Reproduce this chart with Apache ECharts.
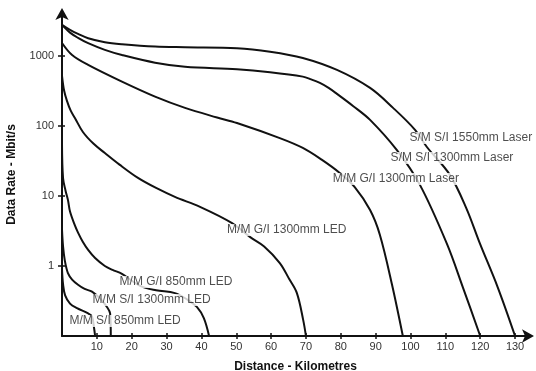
<!DOCTYPE html>
<html>
<head>
<meta charset="utf-8">
<script src="https://cdn.jsdelivr.net/npm/echarts@6/dist/echarts.min.js"></script>
<style>
html,body{margin:0;padding:0;background:#fff;}
#chart{width:536px;height:371px;}
</style>
</head>
<body>
<div id="chart"></div>
<script>
// Distance (km) and data rate (Mbit/s), one pair of arrays per curve
const smSi1550Km   = [0, 2.3, 4.6, 7.5, 12.3, 17.2, 26.7, 35.3, 50.2, 59.7, 69.1, 78.9, 88.4, 95, 101.3, 104.7, 111.3, 116, 119.9, 125, 130];
const smSi1550Rate = [2770, 2350, 2060, 1790, 1570, 1470, 1360, 1330, 1290, 1150, 936, 631, 349, 181, 88, 50, 20, 6.7, 2.1, 0.5, 0.1];

const smSi1300Km   = [0, 2.3, 4.6, 7.5, 12.3, 17.2, 26.7, 35.3, 50.2, 59.7, 69.1, 71.5, 74, 76.5, 78.9, 83.5, 88.4, 96.1, 102.7, 110.4, 115, 120];
const smSi1300Rate = [2770, 2150, 1810, 1520, 1220, 1030, 800, 700, 645, 585, 506, 462, 411, 349, 287, 193, 122, 45, 14.4, 2.1, 0.5, 0.1];

const mmGi1300LaserKm   = [0, 2.9, 7.5, 17.2, 26.7, 35.3, 44.5, 50.2, 62.5, 69.1, 74.5, 79.7, 84.0, 88.4, 91.2, 94.7, 97.8];
const mmGi1300LaserRate = [1530, 1030, 744, 429, 262, 181, 132, 110, 67, 48.5, 33, 21.3, 13.4, 6.3, 2.8, 0.54, 0.1];

const mmGi1300LedKm   = [0, 0.6, 1.4, 2.5, 3.7, 6.0, 9.0, 12.3, 16.5, 21.8, 27, 32.4, 39.6, 48.8, 53.9, 58, 62.5, 65.2, 67.4, 69.2, 70];
const mmGi1300LedRate = [520, 320, 230, 165, 130, 82, 56, 41, 28, 18.1, 13, 9.7, 7.0, 4.1, 2.6, 1.9, 1.1, 0.65, 0.41, 0.17, 0.1];

const mmGi850LedKm   = [0, 0.3, 1.0, 1.7, 2.3, 3.7, 4.6, 6.0, 7.5, 9.5, 12.3, 14.5, 17.2, 22.4, 27, 32.4, 36, 38.7, 40.7, 42.2];
const mmGi850LedRate = [55, 18, 12, 8.8, 6.0, 3.8, 3.0, 2.2, 1.7, 1.3, 1.0, 0.88, 0.77, 0.52, 0.45, 0.41, 0.33, 0.26, 0.18, 0.1];

const mmSi1300LedKm   = [0, 0.3, 0.8, 1.7, 2.9, 4.6, 6.5, 8.6, 11, 12.9, 13.8, 14.0];
const mmSi1300LedRate = [3.3, 1.9, 1.2, 0.79, 0.64, 0.54, 0.47, 0.43, 0.34, 0.26, 0.21, 0.1];

const mmSi850LedKm   = [0, 0.3, 0.9, 2.3, 4.3, 7.5, 8.6, 9.2, 9.5];
const mmSi850LedRate = [0.9, 0.55, 0.38, 0.29, 0.25, 0.21, 0.19, 0.13, 0.1];

// Curve labels and where they sit (km, Mbit/s)
const curveNames = ['S/M S/I 1550mm Laser', 'S/M S/I 1300mm Laser', 'M/M G/I 1300mm Laser',
                    'M/M G/I 1300mm LED', 'M/M G/I 850mm LED', 'M/M S/I 1300mm LED', 'M/M S/I 850mm LED'];
const labelKm   = [117.3, 111.9, 95.8, 64.5, 32.7, 25.7, 18.1];
const labelRate = [67.4, 34.9, 17.5, 3.27, 0.59, 0.327, 0.164];

// Axis ticks
const xTicks = [10, 20, 30, 40, 50, 60, 70, 80, 90, 100, 110, 120, 130];
const yTicks = [1, 10, 100, 1000];

const curves = [
  [smSi1550Km, smSi1550Rate],
  [smSi1300Km, smSi1300Rate],
  [mmGi1300LaserKm, mmGi1300LaserRate],
  [mmGi1300LedKm, mmGi1300LedRate],
  [mmGi850LedKm, mmGi850LedRate],
  [mmSi1300LedKm, mmSi1300LedRate],
  [mmSi850LedKm, mmSi850LedRate]
];

const FONT = '"Liberation Sans", Arial, Helvetica, sans-serif';
const INK = '#111';

const chart = echarts.init(document.getElementById('chart'), null, {renderer: 'canvas'});

const lineSeries = curves.map((c, i) => ({
  type: 'line',
  name: curveNames[i],
  xAxisIndex: 0,
  yAxisIndex: 0,
  data: c[0].map((x, j) => [x, c[1][j]]),
  showSymbol: false,
  smooth: 0.35,
  lineStyle: {color: INK, width: 2},
  z: 2,
  silent: true,
  animation: false
}));

const labelSeries = {
  type: 'scatter',
  xAxisIndex: 0,
  yAxisIndex: 0,
  symbolSize: 0,
  data: curveNames.map((n, i) => ({value: [labelKm[i], labelRate[i]], name: n})),
  label: {
    show: true,
    position: 'inside',
    formatter: p => p.name,
    color: '#222',
    fontFamily: FONT,
    fontSize: 12,
    backgroundColor: '#fff',
    padding: [0, 1]
  },
  z: 10,
  silent: true,
  animation: false
};

const xBase = {
  type: 'value',
  min: 0,
  max: 134,
  interval: 10,
  position: 'bottom',
  splitLine: {show: false}
};
const yBase = {
  type: 'log',
  logBase: 10,
  min: 0.1,
  max: 4100,
  position: 'left',
  splitLine: {show: false}
};

chart.setOption({
  animation: false,
  backgroundColor: '#fff',
  grid: {left: 62, right: 7, top: 13, bottom: 35, containLabel: false, outerBoundsMode: 'none'},
  xAxis: [
    Object.assign({}, xBase, {
      name: 'Distance - Kilometres',
      nameLocation: 'middle',
      nameGap: 25,
      nameTextStyle: {fontFamily: FONT, fontSize: 12, fontWeight: 'bold', color: INK},
      axisLine: {show: true, lineStyle: {color: INK, width: 2}, symbol: ['none', 'arrow'], symbolSize: [10, 12], symbolOffset: [0, 5]},
      axisTick: {show: true, inside: false, length: 3, customValues: xTicks, lineStyle: {color: INK, width: 1.5}},
      axisLabel: {show: true, customValues: xTicks, fontFamily: FONT, fontSize: 11, color: '#333', margin: 5}
    }),
    Object.assign({}, xBase, {
      axisLine: {show: false},
      axisTick: {show: true, inside: true, length: 3, customValues: xTicks, lineStyle: {color: INK, width: 1.5}},
      axisLabel: {show: false}
    })
  ],
  yAxis: [
    Object.assign({}, yBase, {
      name: 'Data Rate - Mbit/s',
      nameLocation: 'middle',
      nameGap: 44,
      nameRotate: 90,
      nameTextStyle: {fontFamily: FONT, fontSize: 12, fontWeight: 'bold', color: INK},
      axisLine: {show: true, lineStyle: {color: INK, width: 2}, symbol: ['none', 'arrow'], symbolSize: [10, 12], symbolOffset: [0, 5]},
      axisTick: {show: true, inside: false, length: 4, customValues: yTicks, lineStyle: {color: INK, width: 1.5}},
      axisLabel: {show: true, customValues: yTicks, formatter: v => String(v), fontFamily: FONT, fontSize: 11, color: '#333', margin: 8}
    }),
    Object.assign({}, yBase, {
      axisLine: {show: false},
      axisTick: {show: true, inside: true, length: 3, customValues: yTicks, lineStyle: {color: INK, width: 1.5}},
      axisLabel: {show: false}
    })
  ],
  series: lineSeries.concat([labelSeries])
});
</script>
</body>
</html>
